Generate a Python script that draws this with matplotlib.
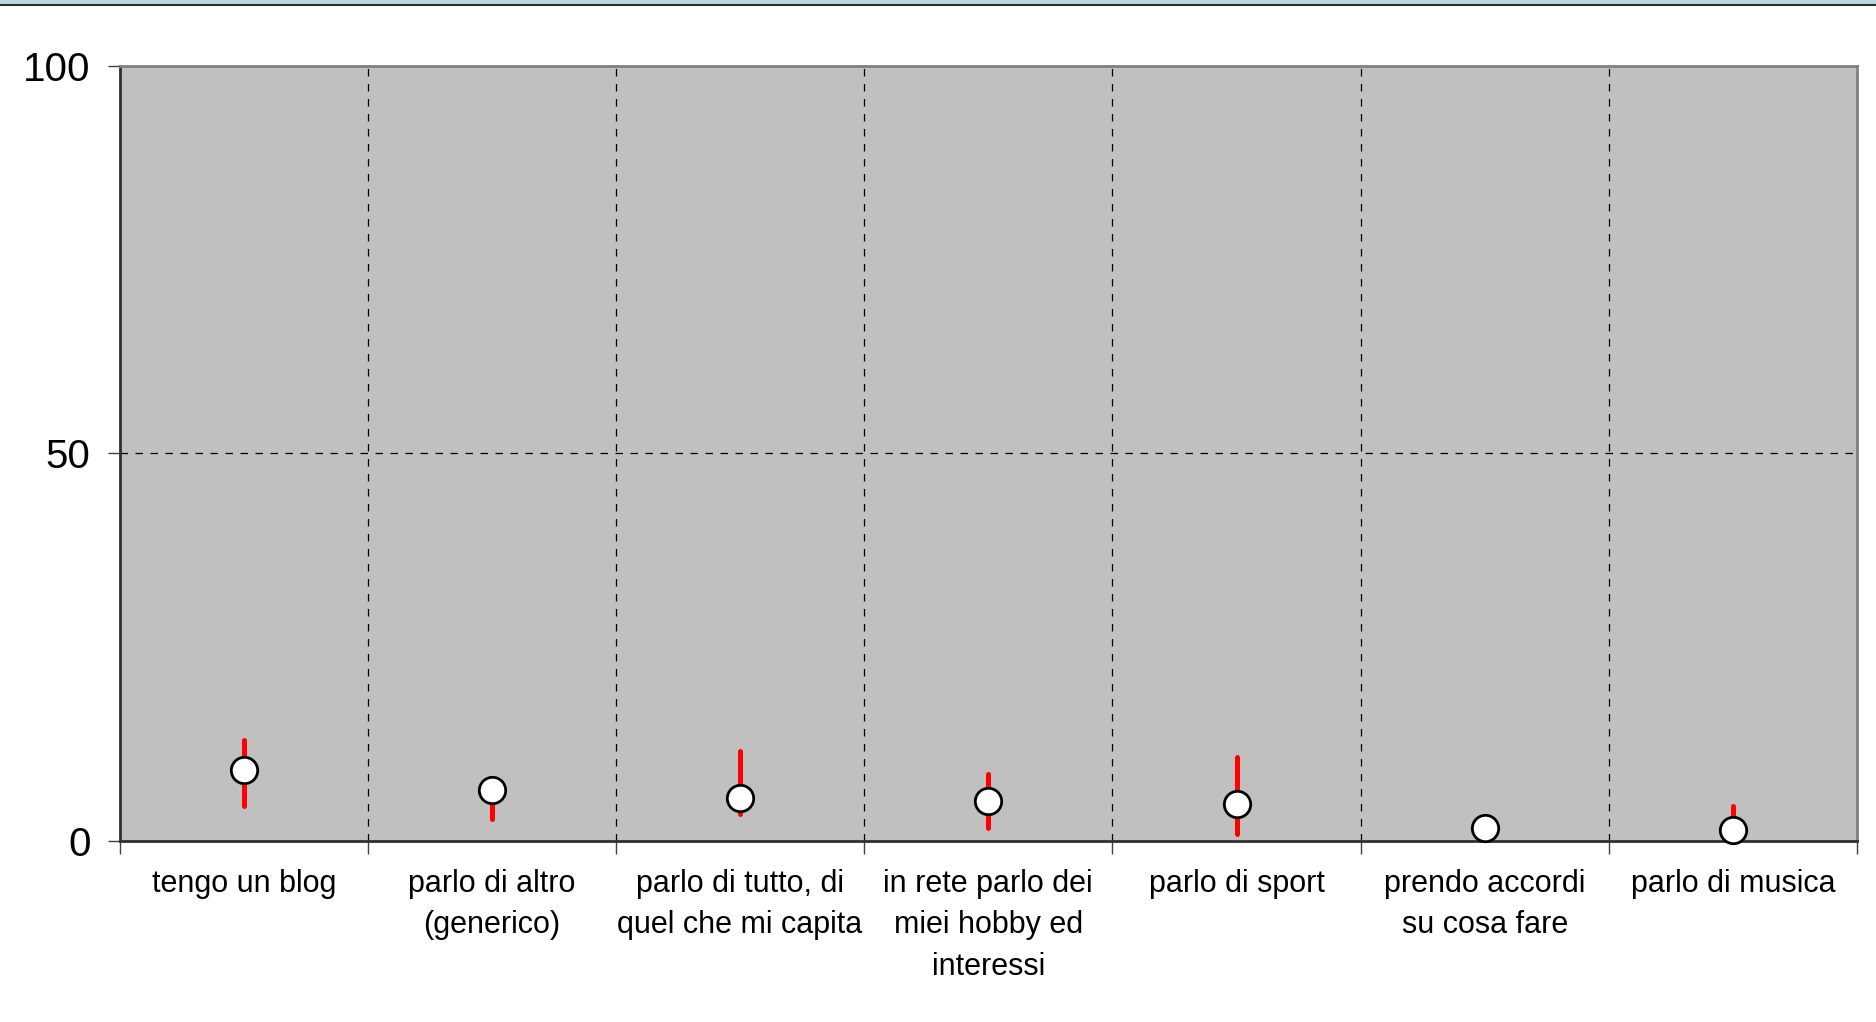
import matplotlib
matplotlib.use("Agg")
import matplotlib.pyplot as plt
from matplotlib.patches import Rectangle
from matplotlib.lines import Line2D
import numpy as np

plt.rcParams['font.family'] = ['Liberation Sans', 'DejaVu Sans']

# dati
categorie = ["tengo un blog", "parlo di altro\n(generico)", "parlo di tutto, di\nquel che mi capita",
             "in rete parlo dei\nmiei hobby ed\ninteressi", "parlo di sport",
             "prendo accordi\nsu cosa fare", "parlo di musica"]
valori = [9.1, 6.6, 5.6, 5.2, 4.8, 1.7, 1.4]
minimi = [4.5, 2.8, 3.5, 1.7, 0.9, 0.8, 0.3]
massimi = [13.0, 8.0, 11.6, 8.6, 10.8, 2.8, 4.5]
y_ticks = [0, 50, 100]

fig = plt.figure(figsize=(18.76, 10.22), dpi=100)
ax = fig.add_axes([119.6 / 1876, 1 - 841 / 1022, (1857 - 119.6) / 1876, (841 - 65.8) / 1022])

# fascia in alto
fig.patches.append(Rectangle((0, 1 - 4 / 1022), 1, 4 / 1022, transform=fig.transFigure,
                             facecolor="#b4dcdf", edgecolor="none"))
fig.lines.append(Line2D([0, 1], [1 - 5 / 1022, 1 - 5 / 1022], transform=fig.transFigure,
                        color="#303030", lw=1.5))

x = np.arange(len(categorie))
ax.set_facecolor("#c0c0c0")
ax.set_xlim(-0.5, len(categorie) - 0.5)
ax.set_ylim(0, 100)

# griglia tratteggiata
for b in np.arange(0.5, len(categorie) - 0.5):
    ax.axvline(b, color="black", lw=0.9, ls=(0, (6, 6)), zorder=1)
ax.axhline(50, color="black", lw=0.9, ls=(0, (6, 6)), zorder=1)

# barre min-max e punti
ax.vlines(x, minimi, massimi, color="#ff0000", lw=3.6, zorder=2, capstyle="round")
ax.plot(x, valori, "o", ms=19, mfc="white", mec="black", mew=2, zorder=3, clip_on=False)

ax.set_yticks(y_ticks)
ax.set_yticklabels([str(v) for v in y_ticks], fontsize=29)
ax.set_xticks(np.arange(-0.5, len(categorie)), minor=False)
ax.set_xticklabels([])
ax.set_xticks(x, minor=True)
ax.set_xticklabels(categorie, minor=True, fontsize=22, linespacing=1.5)
ax.tick_params(axis="x", which="major", length=9, width=1, color="#404040", direction="out")
ax.tick_params(axis="x", which="minor", length=0, pad=20)
ax.tick_params(axis="y", length=9, width=1, color="#404040", direction="out", pad=12)

for s in ["top", "right"]:
    ax.spines[s].set_color("#808080")
    ax.spines[s].set_linewidth(2)
for s in ["left", "bottom"]:
    ax.spines[s].set_color("#303030")
    ax.spines[s].set_linewidth(2)

fig.savefig("out.png", dpi=100)
